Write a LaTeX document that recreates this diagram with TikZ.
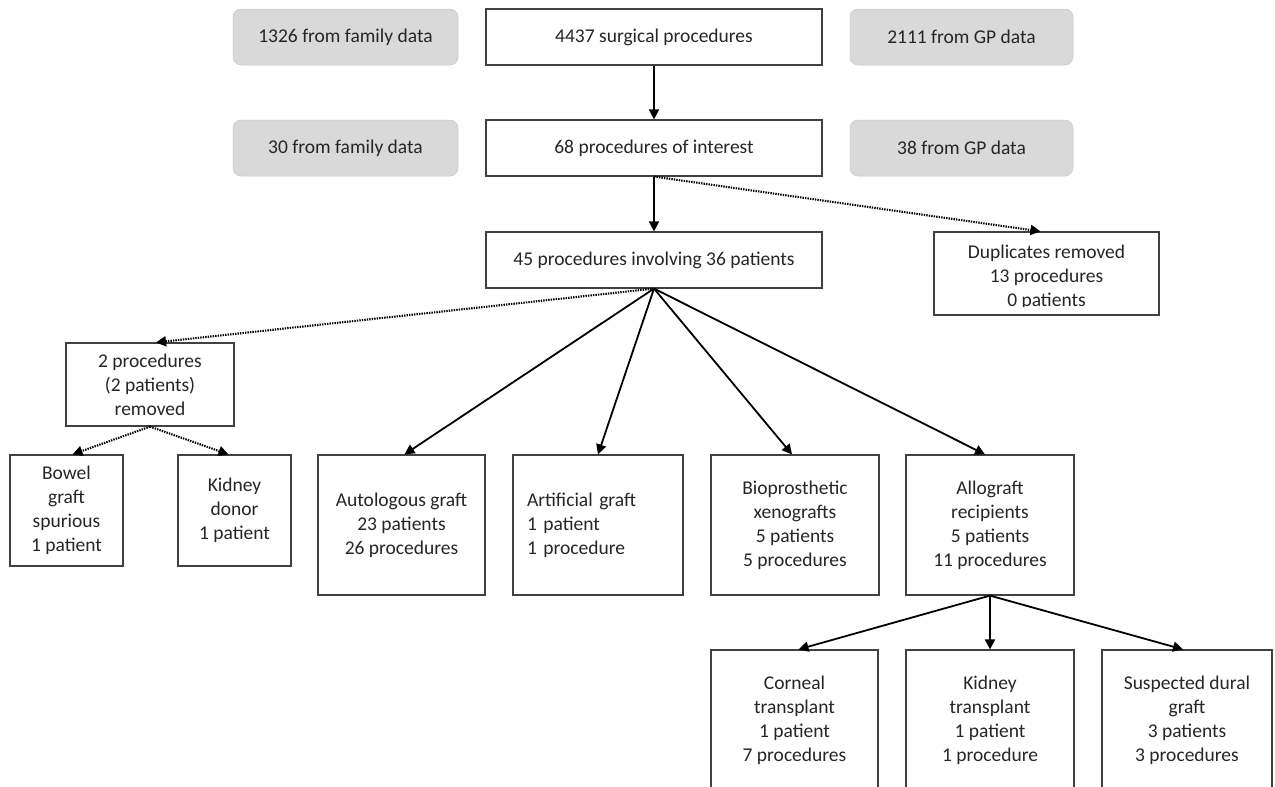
\documentclass[tikz,border=0pt]{standalone}
\usepackage{fontspec}
\setmainfont{Carlito}
\usetikzlibrary{arrows.meta}
\definecolor{boxgray}{HTML}{D9D9D9}
\definecolor{edgegray}{HTML}{404040}
\definecolor{txt}{HTML}{262626}
\begin{document}
\begin{tikzpicture}[x=1pt,y=-1pt,
  every node/.style={font=\fontsize{19.5}{24}\selectfont, text=txt, inner sep=0pt},
  box/.style={draw=edgegray, line width=1.2pt, fill=white, align=center},
  gbox/.style={fill=boxgray, draw=boxgray!92!black, line width=0.5pt, rounded corners=8pt, align=center, minimum height=56pt},
  solidarrow/.style={line width=1.8pt, -{Triangle[length=10pt,width=10pt]}},
  dotarrow/.style={line width=2.1pt, dash pattern=on 1.4pt off 1.1pt, -{Triangle[length=10pt,width=10pt]}}
]
\clip (0,0) rectangle (1275,787);
\fill[white] (0,0) rectangle (1275,787);
% top rows
\node[gbox, minimum width=225pt] (g1) at (345.5,37) {1326 from family data};
\node[box, minimum width=336pt, minimum height=56pt] (top) at (654,37) {4437 surgical procedures};
\node[gbox, minimum width=223pt] (g2) at (961.5,37) {2111 from GP data};
\node[gbox, minimum width=225pt] (g3) at (345.5,148) {30 from family data};
\node[box, minimum width=336pt, minimum height=56pt] (mid) at (654,148) {68 procedures of interest};
\node[gbox, minimum width=223pt] (g4) at (961.5,148) {38 from GP data};
\node[box, minimum width=336pt, minimum height=56pt] (inv) at (654,260) {45 procedures involving 36 patients};
% duplicates
\node[box, minimum width=225pt, minimum height=83pt] (dup) at (1046.5,273.5) {};
\begin{scope}
\clip (934,234) rectangle (1159,306);
\node[align=center] (duptext) at (1046.5,277) {Duplicates removed\\13 procedures\\0 patients};
\end{scope}
% removed branch
\node[box, minimum width=168pt, minimum height=83pt] (rem) at (150,384.5) {2 procedures\\(2 patients)\\removed};
\node[box, minimum width=113pt, minimum height=111pt] (bowel) at (66.5,510.5) {Bowel\\graft\\spurious\\1 patient};
\node[box, minimum width=113pt, minimum height=111pt] (kdon) at (234.5,510.5) {Kidney\\donor\\1 patient};
% categories
\node[box, minimum width=167pt, minimum height=140pt] (auto) at (401.5,525) {Autologous graft\\23 patients\\26 procedures};
\node[box, minimum height=140pt, text width=142pt, inner xsep=14pt, align=left] (art) at (598,525) {Artificial graft\\1 patient\\1 procedure};
\node[box, minimum width=168pt, minimum height=140pt] (bio) at (795,525) {Bioprosthetic\\xenografts\\5 patients\\5 procedures};
\node[box, minimum width=168pt, minimum height=140pt] (allo) at (990,525) {Allograft\\recipients\\5 patients\\11 procedures};
% allograft sub-boxes
\node[box, minimum width=167pt, minimum height=140pt] (corn) at (794.5,720) {Corneal\\transplant\\1 patient\\7 procedures};
\node[box, minimum width=168pt, minimum height=140pt] (ktx) at (990,720) {Kidney\\transplant\\1 patient\\1 procedure};
\node[box, minimum width=170pt, minimum height=140pt] (dural) at (1187,720) {Suspected dural\\graft\\3 patients\\3 procedures};
% connectors
\draw[solidarrow] (top.south) -- (mid.north);
\draw[solidarrow] (mid.south) -- (inv.north);
\draw[dotarrow] (mid.south) -- ([xshift=-6pt]dup.north);
\draw[dotarrow] (inv.south) -- ([xshift=6pt]rem.north);
\draw[dotarrow] (rem.south) -- ([xshift=6pt]bowel.north);
\draw[dotarrow] (rem.south) -- ([xshift=-6pt]kdon.north);
\draw[solidarrow] (inv.south) -- ([xshift=3pt]auto.north);
\draw[solidarrow] (inv.south) -- (art.north);
\draw[solidarrow] (inv.south) -- ([xshift=-3pt]bio.north);
\draw[solidarrow] (inv.south) -- ([xshift=-5pt]allo.north);
\draw[solidarrow] (allo.south) -- ([xshift=4pt]corn.north);
\draw[solidarrow] (allo.south) -- (ktx.north);
\draw[solidarrow] (allo.south) -- ([xshift=-4pt]dural.north);
\end{tikzpicture}
\end{document}
